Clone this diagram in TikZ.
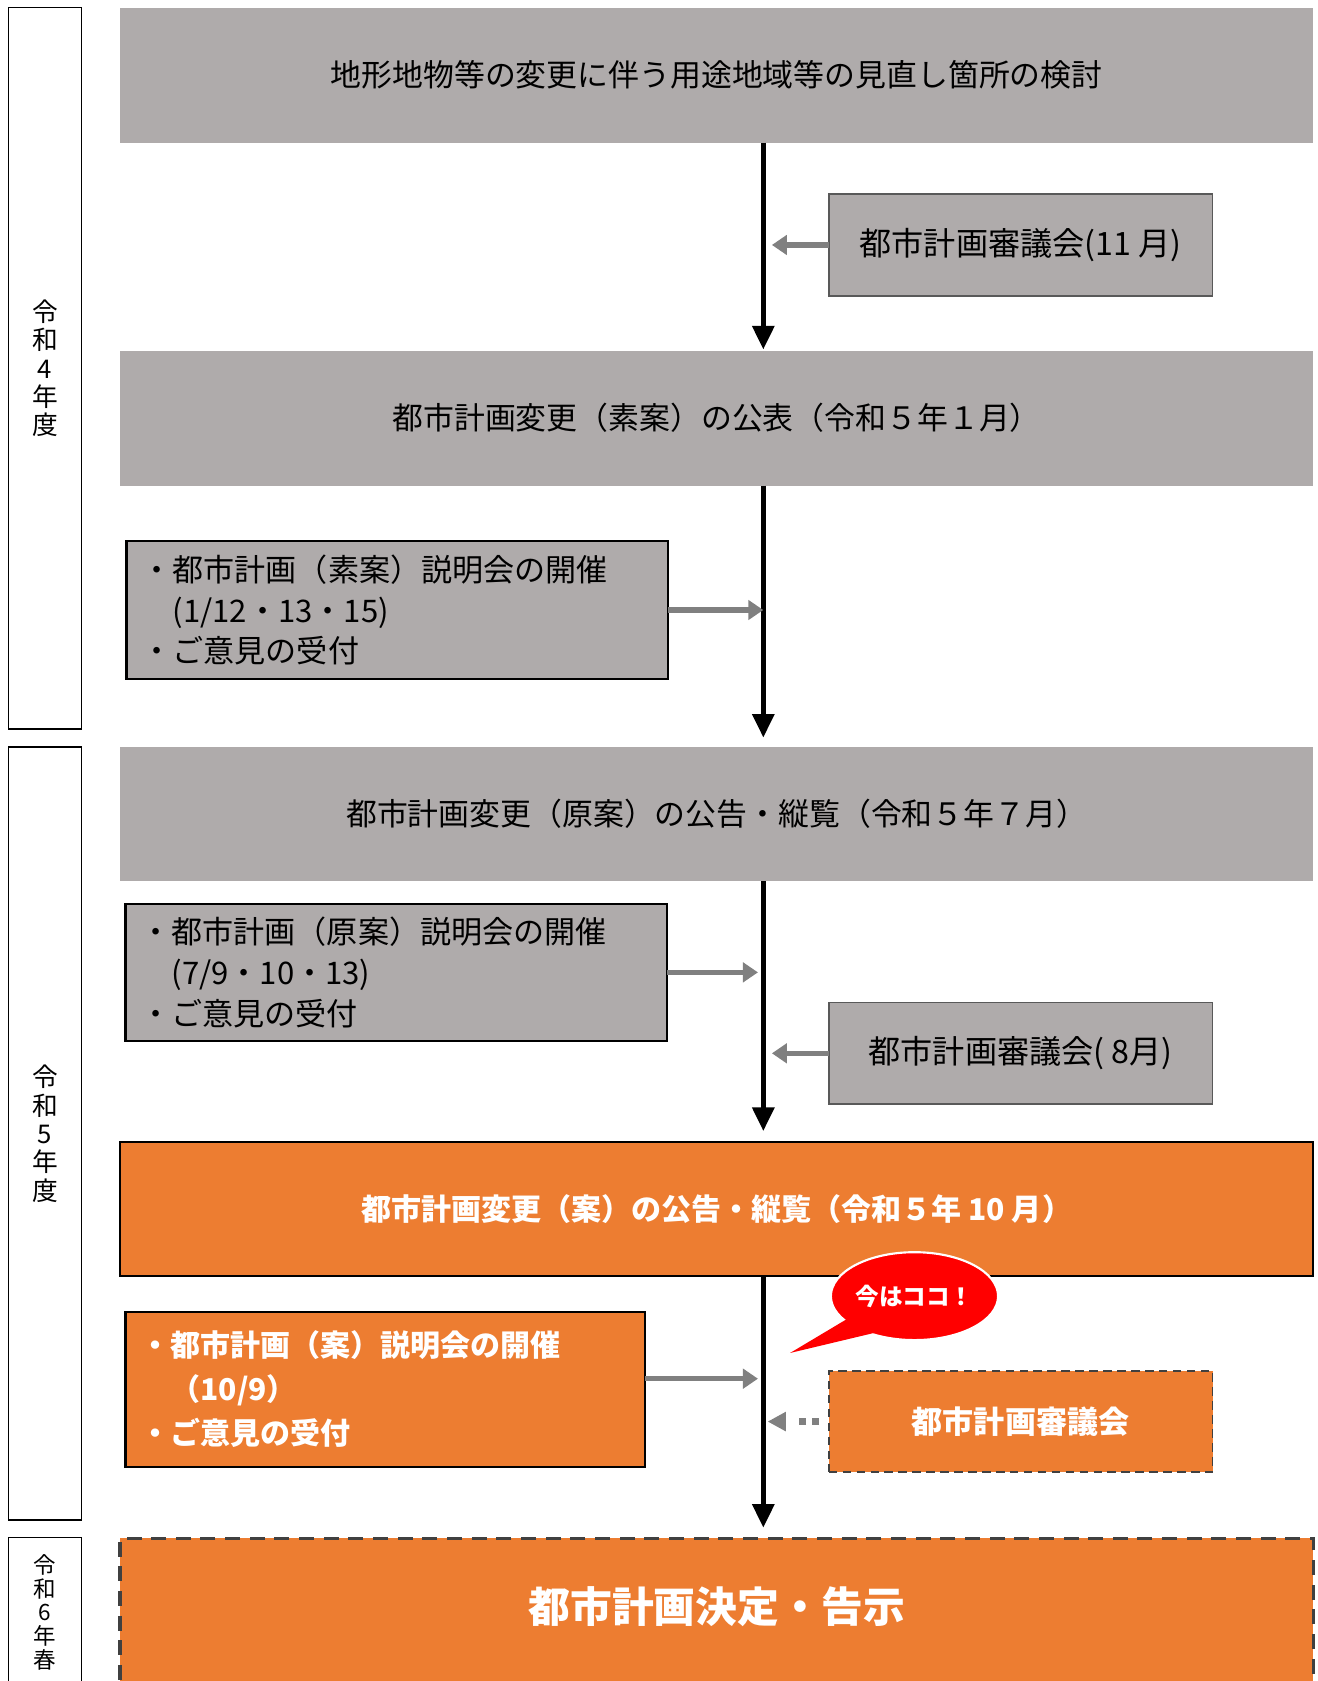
\documentclass[tikz,border=0pt]{standalone}
\usepackage{fontspec}
\setmainfont{Noto Sans CJK JP}
\usetikzlibrary{arrows.meta,shapes.geometric,calc}
\definecolor{boxgray}{HTML}{AFABAB}
\definecolor{orng}{HTML}{ED7D31}
\definecolor{arrgray}{HTML}{808080}
\definecolor{edgegray}{HTML}{595959}
\definecolor{dashgray}{HTML}{404040}
\begin{document}
\begin{tikzpicture}[x=1pt,y=-1pt,
  every node/.style={inner sep=0pt, outer sep=0pt},
  wide/.style={rectangle, anchor=north west, minimum width=1113pt, minimum height=126pt},
  graybig/.style={wide, fill=boxgray, font=\fontsize{28.8}{34}\selectfont},
  orangebig/.style={wide, fill=orng, draw=black, line width=2pt, text=white, font=\bfseries\fontsize{28}{34}\selectfont},
  sidegray/.style={rectangle, anchor=north west, minimum width=358pt, minimum height=95pt, fill=boxgray, draw=edgegray, line width=1.5pt, font=\fontsize{30}{36}\selectfont},
  sideorange/.style={rectangle, anchor=north west, minimum width=358pt, minimum height=94pt, fill=orng, draw=dashgray, line width=1.5pt, dash pattern=on 8pt off 5pt, text=white, font=\bfseries\fontsize{29}{34}\selectfont},
  listgray/.style={rectangle, anchor=north west, minimum height=128pt, inner xsep=14pt, text width=477pt, align=left, fill=boxgray, draw=black, line width=2pt, font=\fontsize{29}{38}\selectfont},
  listorange/.style={rectangle, anchor=north west, minimum height=144pt, inner xsep=14pt, text width=457pt, align=left, fill=orng, draw=black, line width=2pt, text=white, font=\bfseries\fontsize{28}{41}\selectfont},
  yearlbl/.style={rectangle, anchor=north west, minimum width=68pt, draw=black, line width=1.5pt, fill=white, align=center, font=\fontsize{24}{26.5}\selectfont},
  mainarr/.style={draw=black, line width=4.5pt, -{Triangle[width=20pt,length=22pt]}},
  sidearr/.style={draw=arrgray, line width=5pt, -{Triangle[width=18pt,length=14pt]}}
]
\useasboundingbox (0,0) rectangle (1229,1568);

% year labels
\node[yearlbl, minimum height=673pt] (L1) at (8,7) {令\\和\\4\\年\\度};
\node[yearlbl, minimum height=721pt] (L2) at (8,697) {令\\和\\5\\年\\度};
\node[yearlbl, minimum height=140pt, font=\fontsize{21}{22}\selectfont] (L3) at (8,1434) {令\\和\\6\\年\\春};

% main boxes
\node[graybig] (A) at (112,7) {地形地物等の変更に伴う用途地域等の見直し箇所の検討};
\node[graybig] (B) at (112,327) {都市計画変更（素案）の公表（令和５年１月）};
\node[graybig, minimum height=125pt] (E) at (112,697) {都市計画変更（原案）の公告・縦覧（令和５年７月）};
\node[orangebig, minimum height=125pt] (H) at (112,1065) {都市計画変更（案）の公告・縦覧（令和５年 10 月）};
\node[wide, minimum height=0pt, text height=78pt, text depth=200pt, fill=orng, draw=dashgray, line width=3pt, dash pattern=on 14pt off 9pt, text=white, font=\bfseries\fontsize{39}{44}\selectfont] (K) at (112,1435) {都市計画決定・告示};

% side boxes
\node[sidegray] (C) at (773,181) {都市計画審議会(11 月)};
\node[sidegray] (G) at (773,935) {都市計画審議会( 8月)};
\node[sideorange] (J) at (773,1279) {都市計画審議会};

\node[listgray] (D) at (118,505) {・都市計画（素案）説明会の開催\\\phantom{・}(1/12・13・15)\\・ご意見の受付};
\node[listgray] (F) at (117,843) {・都市計画（原案）説明会の開催\\\phantom{・}(7/9・10・13)\\・ご意見の受付};
\node[listorange] (I) at (117,1224) {・都市計画（案）説明会の開催\\\phantom{・}（10/9）\\・ご意見の受付};

% spine
\coordinate (sp) at (712,0);
\draw[mainarr, shorten >=1pt] (A.south -| sp) -- (B.north -| sp);
\draw[mainarr, shorten >=9pt] (B.south -| sp) -- (E.north -| sp);
\draw[mainarr, shorten >=10pt] (E.south -| sp) -- (H.north -| sp);
\draw[mainarr, shorten >=10pt] (H.south -| sp) -- (K.north -| sp);

% side arrows
\draw[sidearr, shorten >=8pt] (C.west) -- (C.west -| sp);
\draw[sidearr] (D.east) -- (D.east -| sp);
\draw[sidearr, shorten >=5pt] (F.east) -- (F.east -| sp);
\draw[sidearr, shorten >=8pt] (G.west) -- (G.west -| sp);
\draw[sidearr, shorten >=5pt] ([yshift=10pt]I.east) -- ([yshift=10pt]I.east -| sp);
\draw[draw=arrgray, line width=6.5pt, dash pattern=on 7pt off 5pt on 7pt off 30pt, -{Triangle[width=17pt,length=17pt]}, shorten <=9pt, shorten >=4pt] (J.west) -- (J.west -| sp);

% speech bubble
\node[ellipse, fill=red, draw=white, line width=2pt, minimum width=156pt, minimum height=82pt, text=white, font=\bfseries\fontsize{22}{26}\selectfont] (bub) at (853,1209) {今はココ！};
\coordinate (tailtip) at (737,1262);
\fill[red] ($(bub.center)!0.9!(bub.198)$) -- (tailtip) -- ($(bub.center)!0.9!(bub.226)$) -- cycle;
\end{tikzpicture}
\end{document}
